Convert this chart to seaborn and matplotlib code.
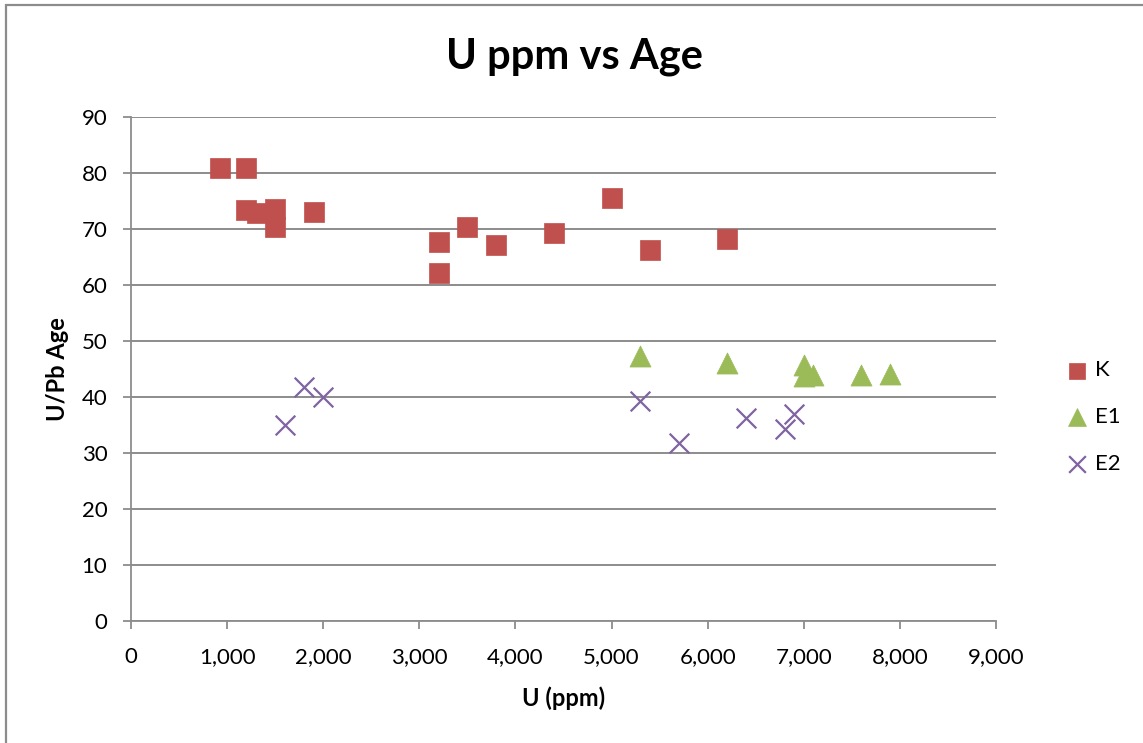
import matplotlib
matplotlib.use("Agg")
import matplotlib.pyplot as plt
import seaborn as sns
import pandas as pd
from matplotlib.ticker import FuncFormatter, MultipleLocator
from matplotlib.patches import Rectangle

k_u = [930, 1200, 1200, 1310, 1500, 1500, 1900, 3200, 3200, 3500, 3800, 4400, 5000, 5400, 6200]
k_age = [80.9, 80.9, 73.4, 72.9, 73.6, 70.3, 73.0, 67.7, 62.1, 70.4, 67.1, 69.2, 75.5, 66.2, 68.3]
e1_u = [5300, 6200, 7000, 7000, 7100, 7600, 7900]
e1_age = [47.4, 46.0, 45.7, 43.8, 44.0, 44.0, 44.1]
e2_u = [1600, 1800, 2000, 5300, 5700, 6400, 6800, 6900]
e2_age = [35.0, 41.8, 40.0, 39.2, 31.8, 36.2, 34.3, 37.0]

title = "U ppm vs Age"
xlabel = "U (ppm)"
ylabel = "U/Pb Age"

sns.set_theme(style="white")
plt.rcParams['font.family'] = ['Lato', 'DejaVu Sans']
plt.rcParams['text.color'] = 'black'
plt.rcParams['axes.labelcolor'] = 'black'

fig = plt.figure(figsize=(11.43, 7.43), dpi=100)
ax = fig.add_axes([131/1143, 122/743, (996-131)/1143, (621-117)/743])

fig.patches.append(Rectangle((6/1143, -0.1), 1.2, (743-5)/743 + 0.1, transform=fig.transFigure,
                             fill=False, edgecolor="#8c8c8c", linewidth=1.6, zorder=0))

df_k = pd.DataFrame({"U": k_u, "Age": k_age})
df_e1 = pd.DataFrame({"U": e1_u, "Age": e1_age})
df_e2 = pd.DataFrame({"U": e2_u, "Age": e2_age})

sns.scatterplot(data=df_k, x="U", y="Age", marker="s", s=190, color="#C0504D",
                edgecolor="#C0504D", linewidth=0.5, ax=ax, label="K", zorder=3)
sns.scatterplot(data=df_e1, x="U", y="Age", marker="^", s=230, color="#9BBB59",
                edgecolor="#9BBB59", linewidth=0.5, ax=ax, label="E1", zorder=3)
sns.scatterplot(data=df_e2, x="U", y="Age", marker="x", s=200, color="#8064A2",
                linewidth=1.6, ax=ax, label="E2", zorder=3)

ax.set_xlim(0, 9000)
ax.set_ylim(0, 90)
ax.xaxis.set_major_locator(MultipleLocator(1000))
ax.yaxis.set_major_locator(MultipleLocator(10))
ax.xaxis.set_major_formatter(FuncFormatter(lambda v, p: f"{int(v):,}"))
ax.grid(axis="y", color="#8c8c8c", linewidth=1.4)
ax.grid(axis="x", visible=False)
ax.set_axisbelow(True)
for s in ["top", "right"]:
    ax.spines[s].set_visible(False)
for s in ["left", "bottom"]:
    ax.spines[s].set_color("#8c8c8c")
    ax.spines[s].set_linewidth(1.3)
ax.tick_params(axis="both", which="major", direction="out", length=6, width=1.3,
               color="#8c8c8c", labelsize=16, labelcolor="black",
               bottom=True, left=True)
ax.tick_params(axis="y", pad=11)
ax.tick_params(axis="x", pad=13)

ax.set_xlabel(xlabel, fontsize=17, fontweight="bold", labelpad=14, color="black")
ax.set_ylabel(ylabel, fontsize=17, fontweight="bold", labelpad=9, color="black")
fig.text(575/1143, 1 - 57/743, title, fontsize=30, fontweight="bold", ha="center", va="center",
         color="black")

leg = ax.legend(loc="center left", bbox_to_anchor=(1066/1143, 1 - 417/743), bbox_transform=fig.transFigure,
                frameon=False, fontsize=16, labelspacing=1.2, handlelength=1.0, handletextpad=0.3,
                borderpad=0, borderaxespad=0, markerscale=0.85, labelcolor="black")

fig.savefig("out.png", dpi=100)
